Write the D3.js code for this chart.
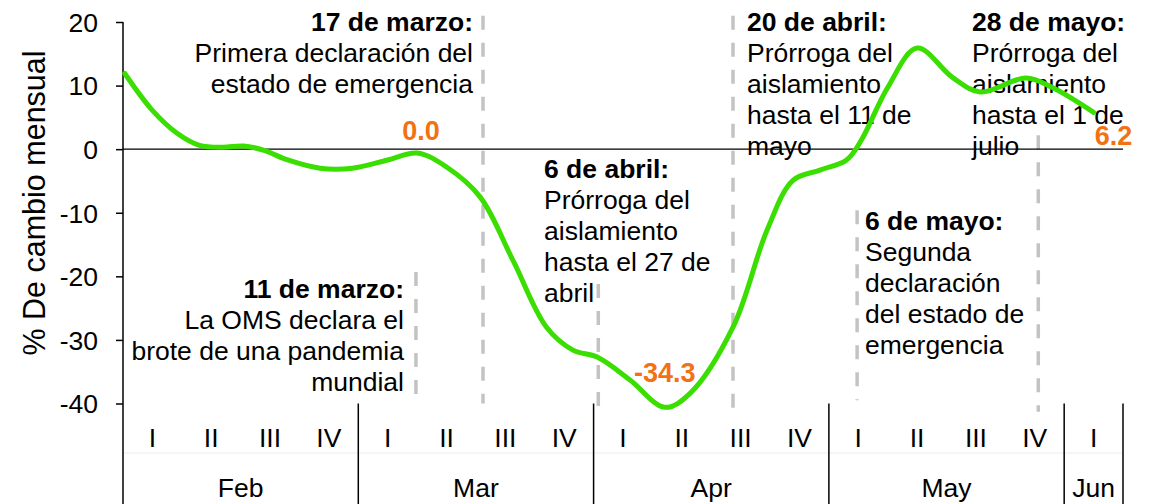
<!DOCTYPE html>
<html>
<head>
<meta charset="utf-8">
<script src="https://cdn.jsdelivr.net/npm/d3@7"></script>
<style>
  body { margin: 0; background: #fff; }
  text { font-family: "Liberation Sans", Arial, sans-serif; }
</style>
</head>
<body>
<script>
// ---- data ----
const months = ['Feb', 'Mar', 'Apr', 'May', 'Jun'];
const weeksPerMonth = [4, 4, 4, 4, 1];
const weekNames = ['I', 'II', 'III', 'IV'];
const yTicks = [-40, -30, -20, -10, 0, 10, 20];

// position of each point in weeks (0 = start of Feb I) and % change
const weekPos = [0.03, 0.5, 0.92, 1.3, 1.7, 2.05, 2.4, 2.8, 3.35, 3.9, 4.5, 5.0, 5.5, 6.07, 6.63, 7.2,
    7.65, 8.06, 8.62, 9.21, 9.64, 10.37, 10.95, 11.39, 11.85, 12.3, 12.55, 13.0, 13.5, 14.1, 14.57,
    15.35, 15.8, 16.5];
const values = [11.9, 6.1, 2.5, 0.6, 0.3, 0.5, -0.2, -1.7, -3.0, -3.0, -1.7, -0.6, -2.8, -7.5, -17.5, -28.0,
    -31.6, -32.7, -36.3, -40.6, -38.4, -28.0, -12.7, -4.9, -3.3, -1.7, 1.4, 9.7, 15.9, 11.3, 9.0,
    11.2, 9.7, 5.8];

// orange value labels: point index they belong to
const labelIdx = [11, 19, 33];
const labelText = ['0.0', '-34.3', '6.2'];

// events (dashed lines): week position, top and bottom of the line in % units
const eventPos = [4.98, 6.12, 8.08, 10.37, 12.48, 15.56];
const eventTop = [-19.3, 21, -21.2, 21, -9.6, 2.2];
const eventBottom = [-40, -40, -41, -41, -39.5, -41.3];
const eventTitle = ['11 de marzo:', '17 de marzo:', '6 de abril:', '20 de abril:', '6 de mayo:', '28 de mayo:'];
const eventText = [
    ['La OMS declara el', 'brote de una pandemia', 'mundial'],
    ['Primera declaración del', 'estado de emergencia'],
    ['Prórroga del', 'aislamiento', 'hasta el 27 de', 'abril'],
    ['Prórroga del', 'aislamiento', 'hasta el 11 de', 'mayo'],
    ['Segunda', 'declaración', 'del estado de', 'emergencia'],
    ['Prórroga del', 'aislamiento', 'hasta el 1 de', 'julio']
];

// ---- layout ----
const W = 1156, H = 504;
const mLeft = 123, mRight = 1123, mTop = 22, mBottom = 403.5;
// text block placement: anchor x, first baseline, text-anchor
const textLayout = [
    { x: 404, y: 298, a: 'end' },
    { x: 473, y: 31, a: 'end' },
    { x: 544, y: 178, a: 'start' },
    { x: 747, y: 31, a: 'start' },
    { x: 865, y: 230, a: 'start' },
    { x: 972, y: 31, a: 'start' }
];
const lineGap = 31;

const svg = d3.select('body').append('svg')
    .attr('width', W)
    .attr('height', H);

const nWeeks = d3.sum(weeksPerMonth);
const x = d3.scaleLinear().domain([0, nWeeks]).range([mLeft, mRight]);
const y = d3.scaleLinear().domain([-40, 20]).range([mBottom, mTop]);

// week categories
const weeks = [];
weeksPerMonth.forEach((n, m) => {
    for (let i = 0; i < n; ++i) weeks.push({ month: m, name: weekNames[i] });
});
const band = d3.scaleBand().domain(d3.range(nWeeks)).range([mLeft, mRight]);

// annotation texts (behind lines)
const notes = svg.append('g');
eventTitle.forEach((t, i) => {
    const L = textLayout[i];
    const txt = notes.append('text')
        .attr('x', L.x)
        .attr('y', L.y)
        .attr('text-anchor', L.a)
        .style('font-size', '26.5px')
        .style('fill', '#000');
    txt.append('tspan').attr('x', L.x).attr('dy', 0).style('font-weight', 'bold').text(t);
    eventText[i].forEach(line => {
        txt.append('tspan').attr('x', L.x).attr('dy', lineGap).text(line);
    });
});

// faint row separator of category axis
svg.append('line')
    .attr('x1', mLeft).attr('x2', mRight)
    .attr('y1', 453).attr('y2', 453)
    .attr('stroke', '#ececec').attr('stroke-width', 1);

// dashed event lines
svg.selectAll('.event')
    .data(eventPos)
    .enter()
  .append('line')
    .attr('class', 'event')
    .attr('x1', d => x(d)).attr('x2', d => x(d))
    .attr('y1', (d, i) => y(eventTop[i]))
    .attr('y2', (d, i) => y(eventBottom[i]))
    .attr('stroke', '#c3c3c3')
    .attr('stroke-width', 3.5)
    .attr('stroke-dasharray', '14,13');

// y axis
const yAxis = d3.axisLeft(y)
    .tickValues(yTicks)
    .tickFormat(d => String(d)) // plain hyphen, like the original
    .tickSize(7)
    .tickSizeOuter(0)
    .tickPadding(18);
const gy = svg.append('g')
    .attr('transform', `translate(${mLeft},0)`)
    .call(yAxis);
gy.select('.domain').remove();
gy.selectAll('.tick line').attr('stroke', '#000').attr('stroke-width', 1.5);
gy.selectAll('.tick text')
    .style('font-size', '26.5px')
    .style('font-family', '"Liberation Sans", Arial, sans-serif')
    .attr('fill', '#000')
    .attr('dy', '0.35em');

svg.append('line')
    .attr('x1', mLeft).attr('x2', mLeft)
    .attr('y1', mTop).attr('y2', H)
    .attr('stroke', '#000').attr('stroke-width', 1.5);

// zero line
svg.append('line')
    .attr('x1', mLeft).attr('x2', mRight)
    .attr('y1', y(0)).attr('y2', y(0))
    .attr('stroke', '#000').attr('stroke-width', 1.3);

// category axis: week names
svg.selectAll('.wk')
    .data(weeks)
    .enter()
  .append('text')
    .attr('class', 'wk')
    .attr('x', (d, i) => band(i) + band.bandwidth() / 2)
    .attr('y', 447)
    .attr('text-anchor', 'middle')
    .style('font-size', '26.5px')
    .text(d => d.name);

// month names and separators
const cum = [0].concat(Array.from(d3.cumsum(weeksPerMonth)));
svg.selectAll('.mo')
    .data(months)
    .enter()
  .append('text')
    .attr('class', 'mo')
    .attr('x', (d, i) => x((cum[i] + cum[i + 1]) / 2))
    .attr('y', 497)
    .attr('text-anchor', 'middle')
    .style('font-size', '26.5px')
    .text(d => d);

svg.selectAll('.sep')
    .data(cum.slice(1))
    .enter()
  .append('line')
    .attr('class', 'sep')
    .attr('x1', d => x(d)).attr('x2', d => x(d))
    .attr('y1', mBottom).attr('y2', H)
    .attr('stroke', '#000').attr('stroke-width', 1.5);

// axis title
svg.append('text')
    .attr('transform', `translate(45,203) rotate(-90)`)
    .attr('text-anchor', 'middle')
    .style('font-size', '30.5px')
    .text('% De cambio mensual');

// the line
const pts = weekPos.map((w, i) => ({ w: w, v: values[i] }));
const line = d3.line()
    .x(d => x(d.w))
    .y(d => y(d.v))
    .curve(d3.curveCatmullRom.alpha(0.5));

svg.append('path')
    .datum(pts)
    .attr('fill', 'none')
    .attr('stroke', '#3ade00')
    .attr('stroke-width', 5)
    .attr('stroke-linecap', 'round')
    .attr('d', line);

// value labels
const labelOffset = [[4, -13], [0, -25], [20, 33]];
svg.selectAll('.vl')
    .data(labelIdx)
    .enter()
  .append('text')
    .attr('class', 'vl')
    .attr('x', (d, i) => x(weekPos[d]) + labelOffset[i][0])
    .attr('y', (d, i) => y(values[d]) + labelOffset[i][1])
    .attr('text-anchor', 'middle')
    .style('font-size', '27px')
    .style('font-weight', 'bold')
    .style('fill', '#f27213')
    .text((d, i) => labelText[i]);
</script>
</body>
</html>
